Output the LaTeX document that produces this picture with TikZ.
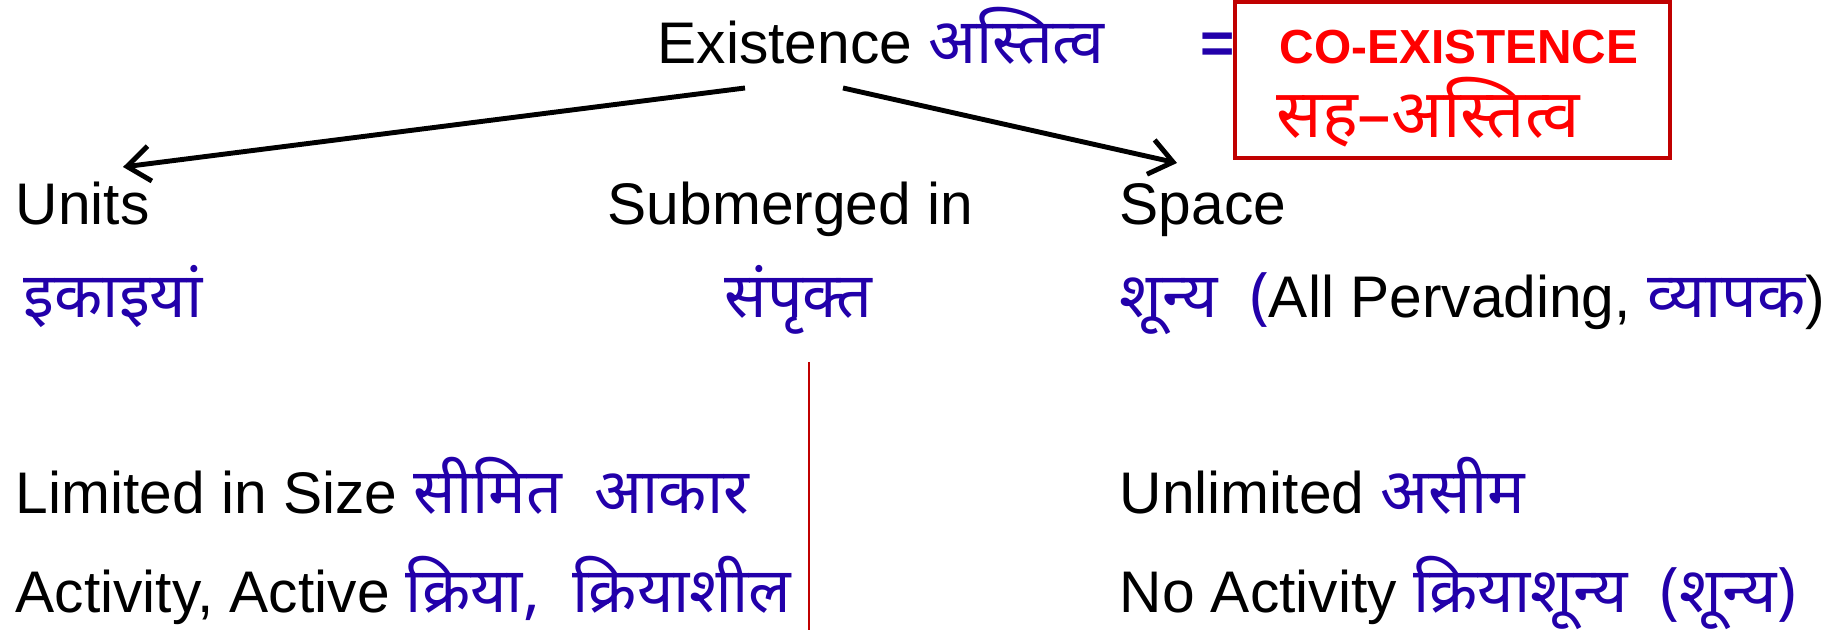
\documentclass[tikz,border=0pt]{standalone}
\usepackage{fontspec}
\setmainfont{Liberation Sans}
\newfontfamily\hindi[Script=Devanagari, Scale=1.07]{Noto Sans}
\usetikzlibrary{
    arrows.meta,
    positioning
}
\tikzset{
  txt/.style   = {anchor=base west, inner sep=0pt,
                  font=\fontsize{16.7}{19}\selectfont},
  cotxt/.style = {anchor=base west, inner sep=0pt, text=coRed,
                  font=\fontsize{13.6}{16}\selectfont\bfseries},
  cobox/.style = {draw=boxRed, line width=1.2pt, minimum width=4.35cm,
                  minimum height=1.56cm, inner sep=0pt},
  divider/.style = {boxRed, line width=0.6pt}
}
\definecolor{hiblue}{RGB}{34,0,170}
\definecolor{coRed}{RGB}{255,0,0}
\definecolor{boxRed}{RGB}{192,0,0}
\newcommand{\hitext}[1]{\textcolor{hiblue}{\hindi #1}}

\begin{document}
\begin{tikzpicture}[
  arr/.style={-{Straight Barb[length=6.5pt,width=10pt]}, line width=1.4pt}]

  \fill[white] (0,0) rectangle (18.31,6.30);
  \useasboundingbox (0,0) rectangle (18.31,6.30);

  \node[txt] (exist) at (6.57,5.66) {Existence \hitext{अस्तित्व}};
  \node[txt, text=hiblue, font=\fontsize{16.7}{19}\selectfont\bfseries]
    (equal) at (12.00,5.66) {=};

  \node[cobox] (coex) at (14.525,5.50) {};
  \node[cotxt] (coen) at (12.79,5.66) {CO-EXISTENCE};
  \node[cotxt, font=\fontsize{17.9}{19}\selectfont\hindi\bfseries]
    (cohi) at (12.76,4.92) {सह–अस्तित्व};

  \node[txt] (units) at (0.15,4.05) {Units};
  \node[txt] (subm)  at (6.07,4.05) {Submerged in};
  \node[txt] (space) at (11.19,4.05) {Space};

  \node[txt] (ikai)   at (0.23,3.12) {\hitext{इकाइयां}};
  \node[txt] (sampr)  at (7.24,3.12) {\hitext{संपृक्त}};
  \node[txt] (shunya) at (11.19,3.12)
    {\hitext{शून्य\ \ (}All Pervading, \hitext{व्यापक})};

  \node[txt] (limited)  at (0.15,1.16) {Limited in Size \hitext{सीमित\ \ आकार}};
  \node[txt] (activity) at (0.15,0.17) {Activity, Active \hitext{क्रिया,\ \ क्रियाशील}};
  \node[txt] (unlim)    at (11.19,1.16) {Unlimited \hitext{असीम}};
  \node[txt] (noact)    at (11.19,0.17) {No Activity \hitext{क्रियाशून्य\ \ (शून्य)}};

  \coordinate (exL) at (7.45,5.42);
  \coordinate (exR) at (8.43,5.42);
  \coordinate (unitsTip) at (1.23,4.63);
  \coordinate (spaceTip) at (11.77,4.67);

  \draw[arr] (exL) -- (unitsTip);
  \draw[arr] (exR) -- (spaceTip);

  \draw[divider] (8.09,2.68) -- (8.09,0);
\end{tikzpicture}
\end{document}
